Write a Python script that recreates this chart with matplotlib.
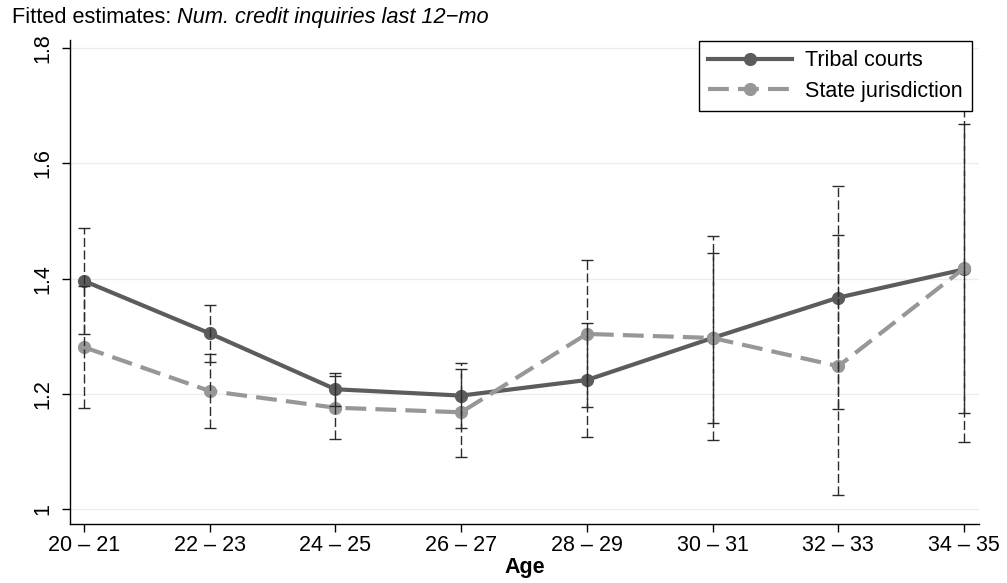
import numpy as np
import matplotlib.pyplot as plt

plt.rcParams['font.family'] = ['Liberation Sans', 'DejaVu Sans']

ages = ['20 – 21', '22 – 23', '24 – 25', '26 – 27', '28 – 29', '30 – 31', '32 – 33', '34 – 35']

tribal = [1.396, 1.305, 1.208, 1.197, 1.224, 1.297, 1.367, 1.416]
tribal_lo = [1.304, 1.255, 1.179, 1.141, 1.125, 1.150, 1.174, 1.166]
tribal_hi = [1.488, 1.354, 1.237, 1.253, 1.323, 1.444, 1.560, 1.669]

state = [1.281, 1.205, 1.176, 1.168, 1.304, 1.297, 1.248, 1.418]
state_lo = [1.175, 1.141, 1.121, 1.091, 1.177, 1.120, 1.024, 1.116]
state_hi = [1.387, 1.269, 1.231, 1.244, 1.432, 1.474, 1.476, 1.720]

yticks = [1, 1.2, 1.4, 1.6, 1.8]

fig = plt.figure(figsize=(10.07, 5.83), dpi=100)
ax = fig.add_axes([0.0695, 0.102, 0.9027, 0.8294])

x = np.arange(len(ages))
dark = '#5c5c5c'
light = '#979797'
bar_col = '#2b2b2b'

ax.plot(x, tribal, color=dark, lw=3.0, marker='o', ms=8.5, label='Tribal courts', zorder=3)
ax.plot(x, state, color=light, lw=3.0, marker='o', ms=8.5, linestyle=(0, (5, 2.2)),
        label='State jurisdiction', zorder=3)

for y, lo, hi in [(tribal, tribal_lo, tribal_hi), (state, state_lo, state_hi)]:
    y = np.array(y)
    err = [y - np.array(lo), np.array(hi) - y]
    eb = ax.errorbar(x, y, yerr=err, fmt='none', ecolor=bar_col, elinewidth=1.0,
                     capsize=4, capthick=1.0, zorder=4)
    eb[2][0].set_linestyle((0, (6.5, 2.5)))

ax.set_xlim(-0.111, 7.119)
ax.set_ylim(0.975, 1.814)
ax.set_xticks(x)
ax.set_xticklabels(ages)
ax.set_yticks(yticks)
ax.set_yticklabels(['1', '1.2', '1.4', '1.6', '1.8'], rotation=90, va='center')
ax.tick_params(axis='both', labelsize=15.5, length=6, width=1, color='black', direction='out')
ax.tick_params(axis='x', pad=2)
ax.tick_params(axis='y', pad=6)

ax.grid(axis='y', color='#e6eef1', lw=0.9)
ax.set_axisbelow(True)
for s in ['top', 'right']:
    ax.spines[s].set_visible(False)
for s in ['left', 'bottom']:
    ax.spines[s].set_linewidth(1.0)

ax.set_xlabel('Age', fontsize=15.5, fontweight='bold', labelpad=1)

# title: plain part then italic part, placed right after it
t1 = fig.text(0.012, 0.96, 'Fitted estimates: ', fontsize=15.7, ha='left', va='baseline')
fig.canvas.draw()
bb = t1.get_window_extent(fig.canvas.get_renderer())
x2 = bb.x1 / fig.bbox.width
fig.text(x2, 0.96, 'Num. credit inquiries last 12\u2212mo', fontsize=15.7,
         style='italic', ha='left', va='baseline')

leg = ax.legend(loc='upper right', bbox_to_anchor=(972 / 1007, 1 - 41 / 583),
                bbox_transform=fig.transFigure, fontsize=15.5, fancybox=False,
                framealpha=1, edgecolor='black', handlelength=3.9, handletextpad=0.6,
                labelspacing=0.45, borderpad=0.42, borderaxespad=0)
leg.get_frame().set_linewidth(1.0)

fig.savefig('out.png', dpi=100)
